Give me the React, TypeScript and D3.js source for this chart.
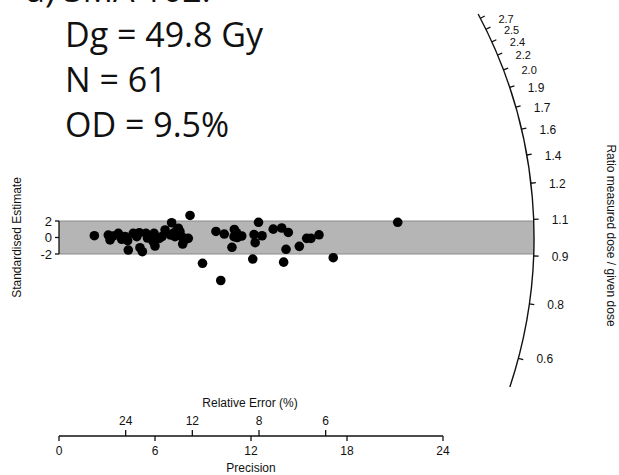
import React from 'react'
import * as d3 from 'd3'

// header text
const panelTitle = 'a) SMA 102.'
const headerLines = ['Dg = 49.8 Gy', 'N = 61', 'OD = 9.5%']

// aliquots: precision (1/se) and standardised estimate
const precision = [
  2.21, 3.08, 3.19, 3.38, 3.71, 3.92, 4.13, 4.33, 4.29, 4.64, 4.86, 5.02, 5.06, 5.21, 5.44, 5.53,
  5.69, 5.89, 5.94, 6.0, 6.27, 6.44, 6.63, 7.04, 6.98, 7.14, 7.25, 7.34, 7.46, 7.56, 7.67, 7.73,
  7.84, 8.08, 8.19, 8.97, 9.81, 10.11, 10.33, 10.81, 10.96, 10.94, 11.09, 11.14, 11.42, 12.11,
  12.19, 12.26, 12.47, 12.69, 13.39, 13.92, 14.04, 14.19, 14.33, 15.02, 15.48, 15.75, 16.25,
  17.14, 21.17,
]
const stdEstimate = [
  0.22, 0.3, -0.3, 0.18, 0.51, -0.22, 0.12, -1.52, -0.39, 0.51, 0.1, 0.58, -1.24, -1.72, 0.51, -0.06,
  0.22, -0.51, 0.51, -1.03, -0.1, 0.12, 0.91, 1.79, 0.3, 0.51, 0.1, 0.79, 1.12, 0.7, 0.1, -0.79,
  -0.3, -0.1, 2.67, -3.13, 0.73, -5.21, 0.42, -1.19, 0.97, 0.1, 0.58, 0.0, 0.18, -2.61,
  0.36, -0.63, 1.84, 0.21, 1.01, 1.15, -2.99, -1.43, 0.61, -1.07, -0.1, -0.1, 0.33,
  -2.45, 1.84,
]

const precisionTicks = [0, 6, 12, 18, 24]
const relErrorTicks = [24, 12, 8, 6] // percent
const stdTicks = [-2, 0, 2]

// radial (ratio) axis: labels and the slope (standardised estimate per unit precision) of each tick
const ratioLabels = ['2.7', '2.5', '2.4', '2.2', '2.0', '1.9', '1.7', '1.6', '1.4', '1.2', '1.1', '0.9', '0.8', '0.6']
const ratioSlopes = [1.009, 0.946, 0.877, 0.807, 0.731, 0.646, 0.553, 0.454, 0.342, 0.223, 0.0743, -0.0755, -0.274, -0.51]
const arcSlopeRange = [1.034, -0.643]

const axisFont = '"Liberation Sans", Arial, Helvetica, sans-serif'

export default function App() {
  const width = 619
  const height = 475

  const x = d3.scaleLinear().domain([0, 24]).range([59, 443])
  const y = d3.scaleLinear().domain([-2, 2]).range([254, 221])
  const cx = x(0)
  const cy = y(0)
  const R = 475
  const axisY = 436

  const angle = (s: number) => Math.atan2(y(s) - cy, x(1) - cx)
  const onArc = (s: number, r = R): [number, number] => {
    const a = angle(s)
    return [cx + r * Math.cos(a), cy + r * Math.sin(a)]
  }

  const [t0x, t0y] = onArc(arcSlopeRange[0])
  const [t1x, t1y] = onArc(arcSlopeRange[1])
  const arcPath = `M${t0x},${t0y} A${R},${R} 0 0 1 ${t1x},${t1y}`

  const bandTop = y(2)
  const bandBot = y(-2)
  const edgeX = (py: number) => cx + Math.sqrt(R * R - (py - cy) * (py - cy))
  const bandPath =
    `M${x(0)},${bandTop} L${edgeX(bandTop)},${bandTop} ` +
    `A${R},${R} 0 0 1 ${edgeX(bandBot)},${bandBot} L${x(0)},${bandBot} Z`

  return (
    <svg
      width={width}
      height={height}
      style={{ position: 'absolute', left: 0, top: 0, background: '#fff' }}
    >
      {/* header */}
      <g fontFamily='"Open Sans", "Noto Sans", sans-serif' fontSize={34} fill="#111">
        <text x={26} y={2}>{panelTitle}</text>
        {headerLines.map((t, i) => (
          <text key={t} x={65} y={47 + i * 45}>{t}</text>
        ))}
      </g>

      {/* +-2 band */}
      <path d={bandPath} fill="#b5b5b5" />
      <line x1={x(0)} x2={edgeX(bandTop)} y1={bandTop} y2={bandTop} stroke="#8a8a8a" strokeWidth={1} />
      <line x1={x(0)} x2={edgeX(bandBot)} y1={bandBot} y2={bandBot} stroke="#8a8a8a" strokeWidth={1} />

      {/* y axis */}
      <g fontFamily={axisFont} fontSize={13} fill="#111">
        <line x1={x(0)} x2={x(0)} y1={y(2)} y2={y(-2)} stroke="#111" strokeWidth={1.3} />
        {stdTicks.map((t) => (
          <g key={t}>
            <line x1={x(0) - 4} x2={x(0)} y1={y(t)} y2={y(t)} stroke="#111" strokeWidth={1.3} />
            <text x={x(0) - 7} y={y(t)} dy="0.35em" textAnchor="end">{t}</text>
          </g>
        ))}
        <text
          transform={`translate(17,${cy}) rotate(-90)`}
          textAnchor="middle"
          dy="0.35em"
          fontSize={12}
        >
          Standardised Estimate
        </text>
      </g>

      {/* points */}
      {precision.map((p, i) => (
        <circle key={i} cx={x(p)} cy={y(stdEstimate[i])} r={4.8} fill="#000" />
      ))}

      {/* radial axis */}
      <path d={arcPath} fill="none" stroke="#111" strokeWidth={1.4} />
      <g fontFamily={axisFont} fontSize={12} fill="#111">
        {ratioLabels.map((lab, i) => {
          const [ax, ay] = onArc(ratioSlopes[i])
          const [bx, by] = onArc(ratioSlopes[i], R + 5)
          const small = ratioSlopes[i] > 0.7
          return (
            <g key={lab}>
              <line x1={ax} y1={ay} x2={bx} y2={by} stroke="#111" strokeWidth={1.3} />
              <text x={ax + 18} y={ay} dy="0.4em" fontSize={small ? 11 : 12}>{lab}</text>
            </g>
          )
        })}
        <text
          transform={`translate(611,${cy - 2}) rotate(90)`}
          textAnchor="middle"
          dy="0.35em"
        >
          Ratio measured dose / given dose
        </text>
      </g>

      {/* precision / relative error axis */}
      <g fontFamily={axisFont} fontSize={12} fill="#111">
        <line x1={x(0)} x2={x(24)} y1={axisY} y2={axisY} stroke="#111" strokeWidth={1.3} />
        {precisionTicks.map((t) => (
          <g key={t}>
            <line x1={x(t)} x2={x(t)} y1={axisY} y2={axisY + 5} stroke="#111" strokeWidth={1.3} />
            <text x={x(t)} y={455} textAnchor="middle">{t}</text>
          </g>
        ))}
        {relErrorTicks.map((t) => (
          <g key={t}>
            <line x1={x(100 / t)} x2={x(100 / t)} y1={axisY - 6} y2={axisY} stroke="#111" strokeWidth={1.3} />
            <text x={x(100 / t)} y={425} textAnchor="middle">{t}</text>
          </g>
        ))}
        <text x={250} y={407} textAnchor="middle">Relative Error (%)</text>
        <text x={251} y={472} textAnchor="middle">Precision</text>
      </g>
    </svg>
  )
}
